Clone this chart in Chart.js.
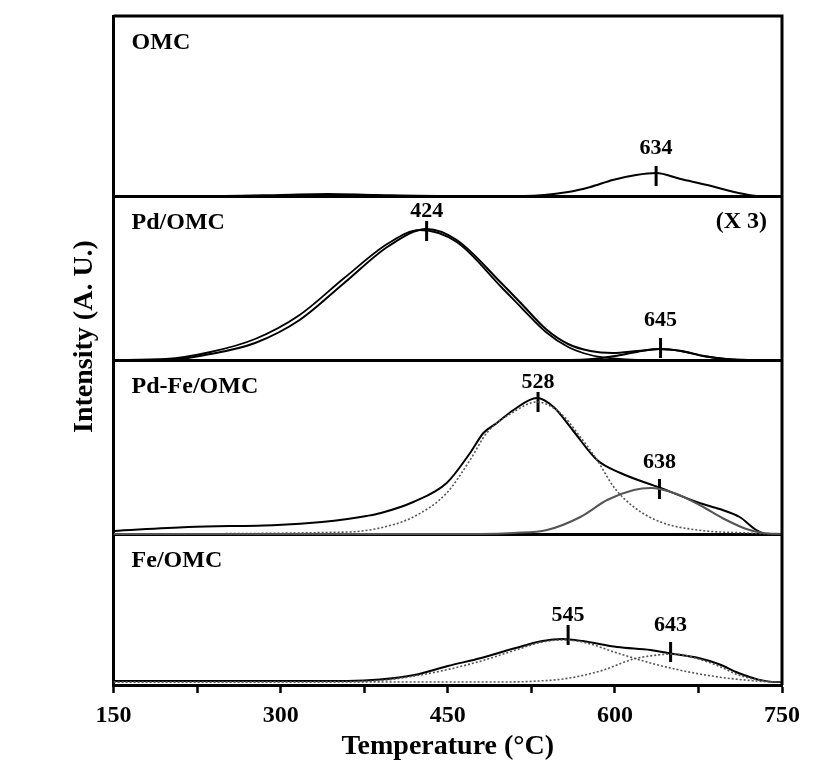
<!DOCTYPE html>
<html>
<head>
<meta charset="utf-8">
<script src="https://cdn.jsdelivr.net/npm/chart.js@4.4.1/dist/chart.umd.min.js"></script>
<style>
  body { margin: 0; background: #fff; }
</style>
</head>
<body>
<canvas id="tprChart" width="822" height="781"></canvas>
<script>
// panel names, top to bottom
const panelNames = ['OMC', 'Pd/OMC', 'Pd-Fe/OMC', 'Fe/OMC'];

// OMC
const omcT = [150, 250, 300, 342, 385, 450, 518, 558, 578, 598, 619, 637, 659, 683, 700, 716, 730, 750];
const omcI = [0, 0, 1, 2, 1, 0, 0, 4, 9, 16, 21, 23, 17, 11, 6, 2, 0, 0];

// Pd/OMC (X 3): measured + two fitted peaks
const pdT = [150, 197, 237, 277, 317, 357, 397, 431, 458, 498, 518, 538, 558, 578, 598, 620, 640, 659, 679, 699, 720, 750];
const pdI = [0, 0, 6, 17, 40, 77, 114, 131, 120, 77, 54, 31, 16, 9, 7, 9, 11, 9, 4, 1, 0, 0];
const pdFit1T = [150, 197, 237, 277, 317, 357, 397, 425, 458, 498, 518, 538, 558, 578, 598, 620, 750];
const pdFit1I = [0, 1, 8, 21, 45, 82, 117, 130, 118, 73, 50, 28, 13, 5, 1.5, 0, 0];
const pdFit2T = [150, 560, 580, 600, 620, 640, 660, 680, 700, 720, 750];
const pdFit2I = [0, 0, 1, 4, 8, 11, 9, 4, 1, 0, 0];

// Pd-Fe/OMC
const pdfeT = [150, 217, 297, 337, 360, 377, 390, 419, 449, 470, 482, 494, 509, 530, 545, 562, 584, 605, 641, 676, 694, 712, 727, 737, 750];
const pdfeI = [3, 7, 9, 12, 15, 18, 21, 32, 51, 81, 101, 111, 124, 136, 127, 104, 74, 61, 46, 31, 25, 17, 4, 0, 0];
const pdfeFit1T = [150, 360, 389, 419, 449, 470, 485, 509, 530, 551, 569, 584, 599, 617, 641, 674, 719, 750];
const pdfeFit1I = [0, 2, 6, 17, 41, 74, 101, 122, 132, 121, 97, 74, 47, 27, 12, 4, 1, 0];
const pdfeFit2T = [150, 480, 509, 539, 569, 593, 617, 632, 653, 676, 700, 718, 733, 750];
const pdfeFit2I = [0, 0, 1, 4, 17, 34, 44, 46, 41, 29, 14, 5, 1, 0];

// Fe/OMC
const feT = [150, 360, 389, 420, 450, 480, 511, 535, 553, 571, 602, 632, 653, 675, 693, 711, 729, 744, 750];
const feI = [1, 1, 2.4, 7, 16, 24, 34, 41, 43, 41, 35, 32, 28, 24, 18, 9, 2.4, 0, 0];
const feFit1T = [150, 360, 389, 420, 450, 480, 511, 535, 553, 571, 602, 632, 662, 693, 723, 745, 750];
const feFit1I = [0, 0.5, 1.4, 6, 12.5, 21, 32, 40, 42, 40, 29, 19, 11, 5, 1.4, 0, 0];
const feFit2T = [150, 500, 526, 556, 587, 617, 638, 653, 675, 693, 711, 729, 748, 750];
const feFit2I = [0, 0, 0.7, 3.4, 11, 23, 27, 28, 23, 16, 7, 2, 0, 0];

// peak markers
const peakLabels = ['634', '424', '645', '528', '638', '545', '643'];
const peakPanel = [0, 1, 1, 2, 2, 3, 3];
const peakTemps = [637, 431, 641, 531, 640, 558, 650];
const peakLevels = [20, 129, 12, 132, 45, 47, 30];
const labelLevels = [48, 149, 40, 152, 72, 67, 57];

// vertical layout of the stacked panels (y units)
const yMax = 669;
const panelBase = [489, 325, 151, 3];
const panelTop = [669, 489, 325, 151];
const markerHalf = 10;

const serif = '"Liberation Serif", "Times New Roman", serif';
Chart.defaults.font.family = serif;
Chart.defaults.color = '#000';

function pts(ts, vals, panel) {
    return ts.map((t, i) => ({ x: t, y: vals[i] + panelBase[panel] }));
}

function curve(ts, vals, panel, style) {
    return Object.assign({
        data: pts(ts, vals, panel),
        borderColor: '#000',
        borderWidth: 2,
        pointRadius: 0,
        fill: false,
        cubicInterpolationMode: 'monotone'
    }, style || {});
}

const dotted = { borderColor: '#555', borderWidth: 1.6, borderDash: [2, 2] };
const grayLine = { borderColor: '#555', borderWidth: 2 };

const datasets = [
    curve(omcT, omcI, 0),
    curve(pdFit1T, pdFit1I, 1, { borderWidth: 1.8 }),
    curve(pdFit2T, pdFit2I, 1, { borderWidth: 1.8 }),
    curve(pdT, pdI, 1),
    curve(pdfeFit1T, pdfeFit1I, 2, dotted),
    curve(pdfeFit2T, pdfeFit2I, 2, grayLine),
    curve(pdfeT, pdfeI, 2),
    curve(feFit1T, feFit1I, 3, dotted),
    curve(feFit2T, feFit2I, 3, dotted),
    curve(feT, feI, 3)
];

// short vertical peak markers
peakTemps.forEach((t, i) => {
    const c = peakLevels[i] + panelBase[peakPanel[i]];
    datasets.push({
        data: [{ x: t, y: c - markerHalf }, { x: t, y: c + markerHalf }],
        borderColor: '#000',
        borderWidth: 3,
        pointRadius: 0
    });
});

// text labels and top/right frame
const annotate = {
    id: 'annotate',
    afterDatasetsDraw(chart) {
        const ctx = chart.ctx;
        const xs = chart.scales.x, ys = chart.scales.y;
        const area = chart.chartArea;
        ctx.save();
        ctx.fillStyle = '#000';
        ctx.textBaseline = 'middle';

        ctx.font = 'bold 24px ' + serif;
        ctx.textAlign = 'left';
        panelNames.forEach((name, p) => {
            ctx.fillText(name, area.left + 18, ys.getPixelForValue(panelTop[p]) + 27);
        });
        ctx.textAlign = 'right';
        ctx.fillText('(X 3)', area.right - 15, ys.getPixelForValue(panelTop[1]) + 26);

        ctx.font = 'bold 22px ' + serif;
        ctx.textAlign = 'center';
        peakLabels.forEach((txt, i) => {
            ctx.fillText(txt, xs.getPixelForValue(peakTemps[i]),
                ys.getPixelForValue(labelLevels[i] + panelBase[peakPanel[i]]));
        });

        ctx.strokeStyle = '#000';
        ctx.lineWidth = 3;
        ctx.beginPath();
        ctx.moveTo(area.left, area.top);
        ctx.lineTo(area.right, area.top);
        ctx.lineTo(area.right, area.bottom);
        ctx.stroke();
        ctx.restore();
    }
};

new Chart(document.getElementById('tprChart'), {
    type: 'line',
    data: { datasets: datasets },
    options: {
        responsive: false,
        animation: false,
        devicePixelRatio: 1,
        layout: { padding: { top: 16, right: 40, left: 56, bottom: 10 } },
        plugins: { legend: { display: false }, tooltip: { enabled: false } },
        scales: {
            x: {
                type: 'linear',
                min: 150,
                max: 750,
                ticks: {
                    stepSize: 75,
                    padding: 11,
                    font: { size: 24, weight: 'bold', lineHeight: 1 },
                    callback: v => (v % 150 === 0 ? v : '')
                },
                grid: {
                    drawOnChartArea: false,
                    drawTicks: true,
                    tickLength: 8,
                    tickColor: '#000',
                    tickWidth: 2.5
                },
                border: { color: '#000', width: 3 },
                title: {
                    display: true,
                    text: 'Temperature (°C)',
                    font: { size: 28, weight: 'bold', lineHeight: 1 },
                    padding: { top: -6, bottom: 10 }
                }
            },
            y: {
                min: 0,
                max: yMax,
                afterBuildTicks: s => { s.ticks = panelBase.slice(0, 3).map(v => ({ value: v })); },
                ticks: { display: false },
                grid: { color: '#000', lineWidth: 3, drawTicks: false },
                border: { color: '#000', width: 3 },
                title: {
                    display: true,
                    text: '    Intensity (A. U.)',
                    font: { size: 28, weight: 'bold' },
                    padding: { top: 12, bottom: 12 }
                }
            }
        }
    },
    plugins: [annotate]
});
</script>
</body>
</html>
